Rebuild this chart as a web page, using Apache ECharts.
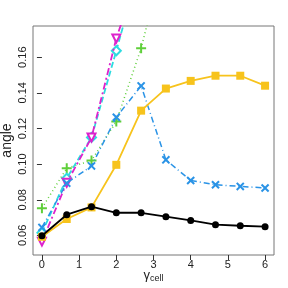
<!DOCTYPE html>
<html><head><meta charset="utf-8">
<script src="https://cdn.jsdelivr.net/npm/echarts@6/dist/echarts.min.js"></script>
<style>html,body{margin:0;padding:0;background:#fff}#c{width:288px;height:288px}</style>
</head><body><div id="c"></div>
<script>
const xs = [0, 0.667, 1.333, 2, 2.667, 3.333, 4, 4.667, 5.333, 6];
const xTicks = [0, 1, 2, 3, 4, 5, 6];
const yTicks = [0.06, 0.08, 0.10, 0.12, 0.14, 0.16];
const blackVals = [0.0598, 0.0716, 0.0761, 0.0727, 0.0727, 0.0705, 0.0684, 0.0660, 0.0654, 0.0649];
const goldVals = [0.0592, 0.0692, 0.0757, 0.0996, 0.1300, 0.1424, 0.1467, 0.1496, 0.1496, 0.1440];
const blueVals = [0.0645, 0.0893, 0.0990, 0.1263, 0.1439, 0.1024, 0.0908, 0.0884, 0.0875, 0.0866];
const greenVals = [0.0753, 0.0977, 0.1020, 0.1239, 0.1650, 0.2200];
const cyanVals = [0.0615, 0.0921, 0.1150, 0.1636, 0.2140];
const magentaVals = [0.0565, 0.0895, 0.1149, 0.1705, 0.2125];

function pts(v){ return v.map((y,i)=>[xs[i], y]); }
const plus = 'path://M4,0H6V4H10V6H6V10H4V6H0V4H4Z';

const chart = echarts.init(document.getElementById('c'));
chart.setOption({
  animation: false,
  grid: {left: 33, right: 14, top: 26, bottom: 33, outerBoundsMode: 'none', containLabel: false, show: true, borderColor: '#777', borderWidth: 1, backgroundColor: 'transparent'},
  xAxis: {
    type: 'value', min: -0.24, max: 6.24,
    axisLine: {show: false},
    splitLine: {show: false},
    axisTick: {show: true, length: 5, customValues: xTicks, lineStyle: {color: '#333'}},
    axisLabel: {customValues: xTicks, color: '#222', fontSize: 11, margin: 4, fontFamily: 'Liberation Sans'},
    name: '{g|γ}{s|cell}', nameLocation: 'middle', nameGap: 13, nameMoveOverlap: false,
    nameTextStyle: {rich: {g: {fontSize: 13, color: '#222', fontFamily: 'Liberation Sans'}, s: {fontSize: 9, color: '#222', fontFamily: 'Liberation Sans', padding: [6, 0, 0, 0]}}}
  },
  yAxis: {
    type: 'value', min: 0.049, max: 0.1775,
    axisLine: {show: false},
    splitLine: {show: false},
    axisTick: {show: true, length: 5, customValues: yTicks, lineStyle: {color: '#333'}},
    axisLabel: {customValues: yTicks, rotate: 90, color: '#222', fontSize: 11, margin: 5, fontFamily: 'Liberation Sans', formatter: v => v.toFixed(2)},
    name: 'angle', nameLocation: 'middle', nameGap: 19, nameRotate: 90, nameMoveOverlap: false,
    nameTextStyle: {fontSize: 14, color: '#222', fontFamily: 'Liberation Sans'}
  },
  series: [
    {type: 'line', data: pts(greenVals), color: '#5fcf3a', lineStyle: {width: 1.5, type: [1, 3]}, symbol: plus, symbolSize: 10, itemStyle: {color: '#5fcf3a'}, z: 2},
    {type: 'line', data: pts(cyanVals), color: '#2ddbe0', lineStyle: {width: 1.8, type: [6, 3]}, symbol: 'emptyDiamond', symbolSize: 9, itemStyle: {color: '#2ddbe0', borderWidth: 1.8}, z: 3},
    {type: 'line', data: pts(magentaVals), color: '#dd22cc', lineStyle: {width: 1.8, type: [7, 3, 2, 3]}, symbol: 'emptyTriangle', symbolRotate: 180, symbolSize: 8, itemStyle: {color: '#dd22cc', borderWidth: 2.5}, z: 4},
    {type: 'line', data: pts(blueVals), color: '#2a93e6', lineStyle: {width: 1.5, type: [6, 3, 1, 3]}, symbol: plus, symbolRotate: 45, symbolSize: 10, itemStyle: {color: '#2a93e6'}, z: 5},
    {type: 'line', data: pts(goldVals), color: '#f7c31c', lineStyle: {width: 1.8}, symbol: 'rect', symbolSize: 8, itemStyle: {color: '#f7c31c'}, z: 6},
    {type: 'line', data: pts(blackVals), color: '#000', lineStyle: {width: 1.8}, symbol: 'circle', symbolSize: 7, itemStyle: {color: '#000'}, z: 7}
  ]
});
</script></body></html>
